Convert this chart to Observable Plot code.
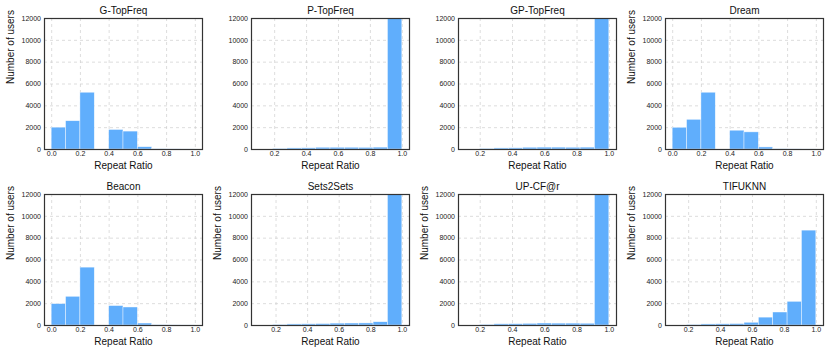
<!DOCTYPE html>
<html>
<head>
<meta charset="utf-8">
<script src="https://cdn.jsdelivr.net/npm/d3@7"></script>
<script src="https://cdn.jsdelivr.net/npm/@observablehq/plot@0.6"></script>
<style>
  html, body { margin: 0; padding: 0; background: #fff; }
  #chart { position: relative; width: 830px; height: 353px; overflow: hidden; font-family: "Liberation Sans", Arial, sans-serif; }
  #chart svg { position: absolute; overflow: visible; }
</style>
</head>
<body>
<div id="chart"></div>
<script>
// Panel titles
const titles = ["G-TopFreq", "P-TopFreq", "GP-TopFreq", "Dream", "Beacon", "Sets2Sets", "UP-CF@r", "TIFUKNN"];
// Histogram range (10 bins between min and max repeat ratio)
const binMin = [0, 0.10, 0.11, 0, 0, 0.09, 0.11, 0.10];
const binMax = [1, 1, 1, 1, 1, 1, 1, 1];
// Bin counts (number of users) per panel
const gTopFreq  = [2000, 2590, 5200, 0, 1790, 1640, 210, 30, 10, 5];
const pTopFreq  = [0, 60, 100, 110, 160, 160, 160, 150, 170, 16000];
const gpTopFreq = [0, 60, 100, 110, 160, 170, 170, 160, 170, 16000];
const dream     = [1990, 2720, 5200, 0, 1720, 1570, 190, 30, 10, 5];
const beacon    = [1960, 2630, 5300, 0, 1780, 1650, 180, 30, 10, 5];
const sets2Sets = [0, 50, 100, 110, 130, 170, 180, 190, 300, 16000];
const upCFr     = [0, 60, 110, 120, 150, 180, 170, 170, 160, 16000];
const tifuknn   = [0, 50, 100, 110, 130, 250, 720, 1190, 2170, 8690];
const panelCounts = [gTopFreq, pTopFreq, gpTopFreq, dream, beacon, sets2Sets, upCFr, tifuknn];
// Which panels show the y-axis label
const showYLabel = [true, false, false, true, true, true, true, true];
// Tick values
const xTicksFull = [0, 0.2, 0.4, 0.6, 0.8, 1.0];
const xTicksPart = [0.2, 0.4, 0.6, 0.8, 1.0];
const yTicks = [0, 2000, 4000, 6000, 8000, 10000, 12000];
const xLabel = "Repeat Ratio";
const yLabel = "Number of users";

const chart = document.getElementById("chart");
const W = 207, H = 177;
const mL = 44, mT = 18, mR = 5, mB = 28;
const barColor = "#60aefc";

titles.forEach((title, i) => {
  const col = i % 4, row = Math.floor(i / 4);
  const lo = binMin[i], hi = binMax[i];
  const r = hi - lo, w = r / 10;
  const bins = panelCounts[i].map((c, k) => ({x1: lo + k * w, x2: lo + (k + 1) * w, y: c}));
  const xTicks = lo === 0 ? xTicksFull : xTicksPart;
  const marks = [
    Plot.gridX(xTicks, {stroke: "#cfcfcf", strokeOpacity: 1, strokeDasharray: "3,3", strokeWidth: 0.7}),
    Plot.gridY(yTicks.slice(1, -1), {stroke: "#cfcfcf", strokeOpacity: 1, strokeDasharray: "3,3", strokeWidth: 0.7}),
    Plot.rectY(bins, {x1: "x1", x2: "x2", y: "y", fill: barColor, stroke: "#ffffff", strokeWidth: 0.6, strokeOpacity: 0.7, clip: true}),
    Plot.axisX(xTicks, {tickSize: 0, tickPadding: 2, tickFormat: ".1f", label: null, fontSize: 7, fill: "#222"}),
    Plot.axisY(yTicks, {tickSize: 0, tickPadding: 3.5, tickFormat: "d", label: null, fontSize: 7, fill: "#222"}),
    Plot.frame({stroke: "#333", strokeWidth: 1.2}),
    Plot.text([title], {frameAnchor: "top", lineAnchor: "middle", dy: -8, fontSize: 10, fill: "#111"}),
    Plot.text([xLabel], {frameAnchor: "bottom", lineAnchor: "middle", dy: 16.5, fontSize: 10, fill: "#111"})
  ];
  if (showYLabel[i]) {
    marks.push(Plot.text([yLabel], {frameAnchor: "left", lineAnchor: "middle", dx: -34, rotate: -90, fontSize: 10, fill: "#111"}));
  }
  const svg = Plot.plot({
    width: W, height: H,
    marginLeft: mL, marginTop: mT, marginRight: mR, marginBottom: mB,
    style: {fontFamily: "Liberation Sans, Arial, sans-serif", background: "transparent", overflow: "visible"},
    x: {domain: [lo - 0.05 * r, hi + 0.05 * r]},
    y: {domain: [0, 12000]},
    marks
  });
  svg.style.left = (col * 207) + "px";
  svg.style.top = (row * 176) + "px";
  chart.appendChild(svg);
});
</script>
</body>
</html>
